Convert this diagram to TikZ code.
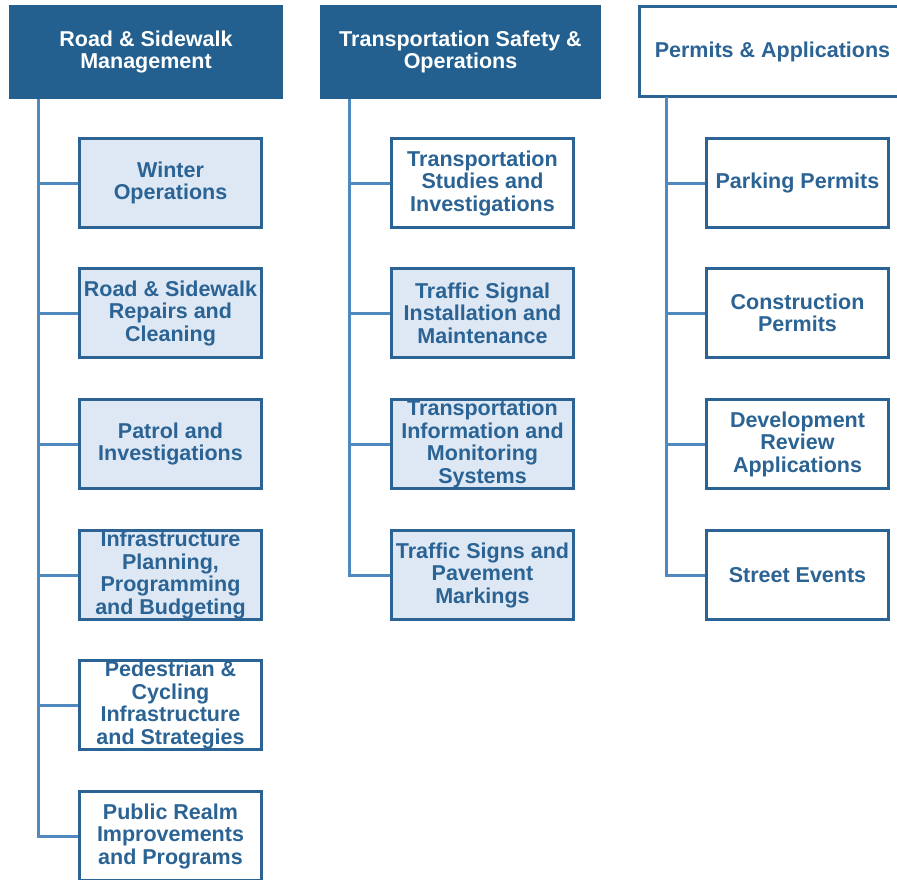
\documentclass[tikz,border=0pt]{standalone}
\usepackage{fontspec}
\setmainfont{Liberation Sans}
\begin{document}
\definecolor{navy}{HTML}{23608F}
\definecolor{boxline}{HTML}{2A6394}
\definecolor{boxfill}{HTML}{DDE8F4}
\definecolor{linkblue}{HTML}{5089C0}
\begin{tikzpicture}[x=1pt,y=-1pt,
  every node/.style={font=\bfseries\fontsize{21.5}{22.5}\selectfont, align=center, inner sep=0pt},
  headbox/.style={fill=navy, text=white, minimum width=274pt, minimum height=94pt},
  headline/.style={draw=boxline, line width=3pt, fill=white, text=boxline, minimum width=266pt, minimum height=90pt},
  unit/.style={draw=boxline, line width=3pt, fill=white, text=boxline, minimum width=182pt, minimum height=89pt},
  shaded/.style={unit, fill=boxfill},
  conn/.style={draw=linkblue, line width=3pt}]
\useasboundingbox (0,0) rectangle (897,880);

% column heads
\node[headbox] (h1) at (146,52) {Road \& Sidewalk\\Management};
\node[headbox, minimum width=281pt] (h2) at (460.5,52) {Transportation Safety \&\\Operations};
\node[headline] (h3) at (772.5,52) {Permits \& Applications};

% trunk starting points
\coordinate (t1) at (38,99);
\coordinate (t2) at (349,99);
\coordinate (t3) at (666,97);

% Road & Sidewalk Management
\node[shaded] (a1) at (170.5,183) {Winter\\Operations};
\node[shaded] (a2) at (170.5,313) {Road \& Sidewalk\\Repairs and\\Cleaning};
\node[shaded] (a3) at (170.5,444) {Patrol and\\Investigations};
\node[shaded] (a4) at (170.5,575) {Infrastructure\\Planning,\\Programming\\and Budgeting};
\node[unit] (a5) at (170.5,705) {Pedestrian \&\\Cycling\\Infrastructure\\and Strategies};
\node[unit] (a6) at (170.5,836) {Public Realm\\Improvements\\and Programs};

% Transportation Safety & Operations
\node[unit] (b1) at (482.5,183) {Transportation\\Studies and\\Investigations};
\node[shaded] (b2) at (482.5,313) {Traffic Signal\\Installation and\\Maintenance};
\node[shaded] (b3) at (482.5,444) {Transportation\\Information and\\Monitoring\\Systems};
\node[shaded] (b4) at (482.5,575) {Traffic Signs and\\Pavement\\Markings};

% Permits & Applications
\node[unit] (c1) at (797.5,183) {Parking Permits};
\node[unit] (c2) at (797.5,313) {Construction\\Permits};
\node[unit] (c3) at (797.5,444) {Development\\Review\\Applications};
\node[unit] (c4) at (797.5,575) {Street Events};

% connectors
\foreach \n in {a1,a2,a3,a4,a5,a6} \draw[conn] (t1) |- (\n.west);
\foreach \n in {b1,b2,b3,b4} \draw[conn] (t2) |- (\n.west);
\foreach \n in {c1,c2,c3,c4} \draw[conn] (t3) |- (\n.west);
\end{tikzpicture}
\end{document}
